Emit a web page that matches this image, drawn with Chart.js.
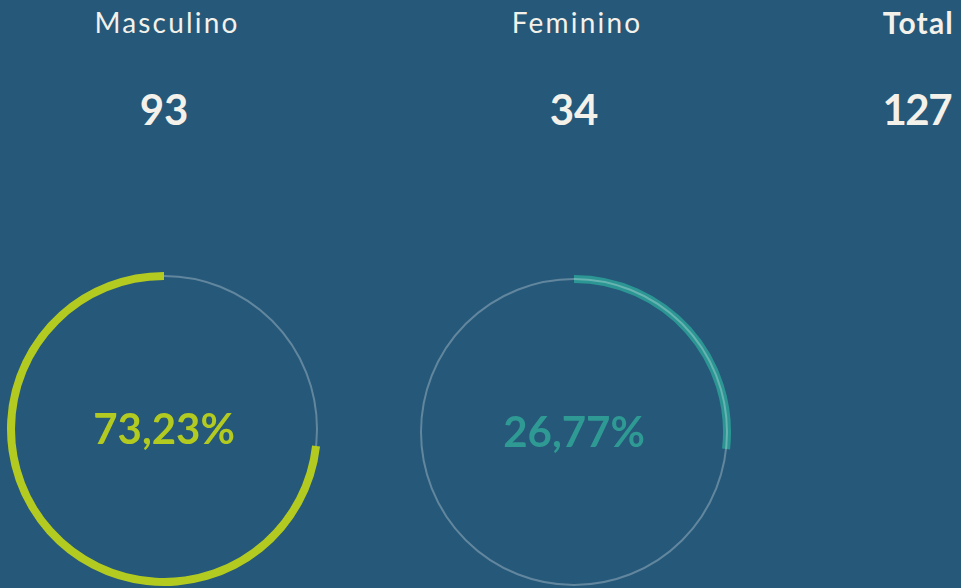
<!DOCTYPE html>
<html>
<head>
<meta charset="utf-8">
<script src="https://cdn.jsdelivr.net/npm/chart.js@4.4.1/dist/chart.umd.min.js"></script>
<style>
  html, body { margin:0; padding:0; }
  body { width:961px; height:588px; background:#255879; position:relative; overflow:hidden;
         font-family: Lato, "Open Sans", sans-serif; color:#f3f1ea; }
  .t { position:absolute; white-space:nowrap; line-height:1; }
  .title { font-size:28px; font-weight:400; letter-spacing:2.2px; transform:translateX(-50%); }
  .num { font-size:42px; font-weight:700; transform:translateX(-50%); }
  canvas { position:absolute; }
</style>
</head>
<body>
<div id="root"></div>
<canvas id="c0" width="320" height="320" style="left:4px;top:269px;"></canvas>
<canvas id="c1" width="320" height="320" style="left:414px;top:272px;"></canvas>
<script>
const categories = ['Masculino', 'Feminino'];
const counts = [93, 34];
const totalLabel = 'Total';
const totalCount = 127;
const percents = [73.23, 26.77];

const colors = ['#b3cb20', 'rgba(44,158,150,0.88)'];
const textColors = ['#b3cb20', '#2f9a94'];
const trackColor = 'rgba(255,255,255,0.28)';

const root = document.getElementById('root');
function addText(cls, txt, x, y) {
  const d = document.createElement('div');
  d.className = 't ' + cls;
  d.textContent = txt;
  d.style.left = x + 'px';
  d.style.top = y + 'px';
  root.appendChild(d);
}
const titleX = [167, 577];
const numX = [164, 574];
titleX.forEach((x, i) => addText('title', categories[i], x, 8));
numX.forEach((x, i) => addText('num', String(counts[i]), x, 88));
const tt = document.createElement('div');
tt.className = 't'; tt.textContent = totalLabel;
tt.style.cssText = 'right:7px;top:7px;font-size:30px;font-weight:700;letter-spacing:1.2px;';
root.appendChild(tt);
const tn = document.createElement('div');
tn.className = 't'; tn.textContent = String(totalCount);
tn.style.cssText = 'right:10px;top:88px;font-size:42px;font-weight:700;letter-spacing:-1.5px;';
root.appendChild(tn);

const trackPlugin = {
  id: 'track',
  beforeDatasetsDraw(chart) { if (!chart.options.plugins.track.over) draw(chart); },
  afterDatasetsDraw(chart) { if (chart.options.plugins.track.over) draw(chart); }
};
function draw(chart) {
  const arc = chart.getDatasetMeta(0).data[0];
  const r = (arc.outerRadius + arc.innerRadius) / 2;
  const ctx = chart.ctx;
  ctx.save();
  ctx.beginPath();
  ctx.arc(arc.x, arc.y, r, 0, Math.PI * 2);
  ctx.strokeStyle = trackColor;
  ctx.lineWidth = 2;
  ctx.stroke();
  ctx.restore();
}

function makeChart(id, i) {
  const p = percents[i];
  const data = i === 0 ? [100 - p, p] : [p, 100 - p];
  const bg = i === 0 ? ['rgba(0,0,0,0)', colors[0]] : [colors[1], 'rgba(0,0,0,0)'];
  const ctr = {
    id: 'ctr' + i,
    afterDraw(chart) {
      const arc = chart.getDatasetMeta(0).data[0];
      const ctx = chart.ctx;
      ctx.save();
      ctx.font = '700 42px Lato, "Open Sans", sans-serif';
      ctx.fillStyle = textColors[i];
      ctx.textAlign = 'center';
      ctx.textBaseline = 'middle';
      ctx.fillText(p.toFixed(2).replace('.', ',') + '%', arc.x, arc.y + 1);
      ctx.restore();
    }
  };
  new Chart(document.getElementById(id), {
    type: 'doughnut',
    data: { labels: ['', categories[i]], datasets: [{ data, backgroundColor: bg, borderWidth: 0 }] },
    options: {
      responsive: false, animation: false,
      cutout: 149,
      layout: { padding: 3 },
      plugins: { legend: { display: false }, tooltip: { enabled: false }, track: { over: i === 1 } }
    },
    plugins: [trackPlugin, ctr]
  });
}
makeChart('c0', 0);
makeChart('c1', 1);
</script>
</body>
</html>
